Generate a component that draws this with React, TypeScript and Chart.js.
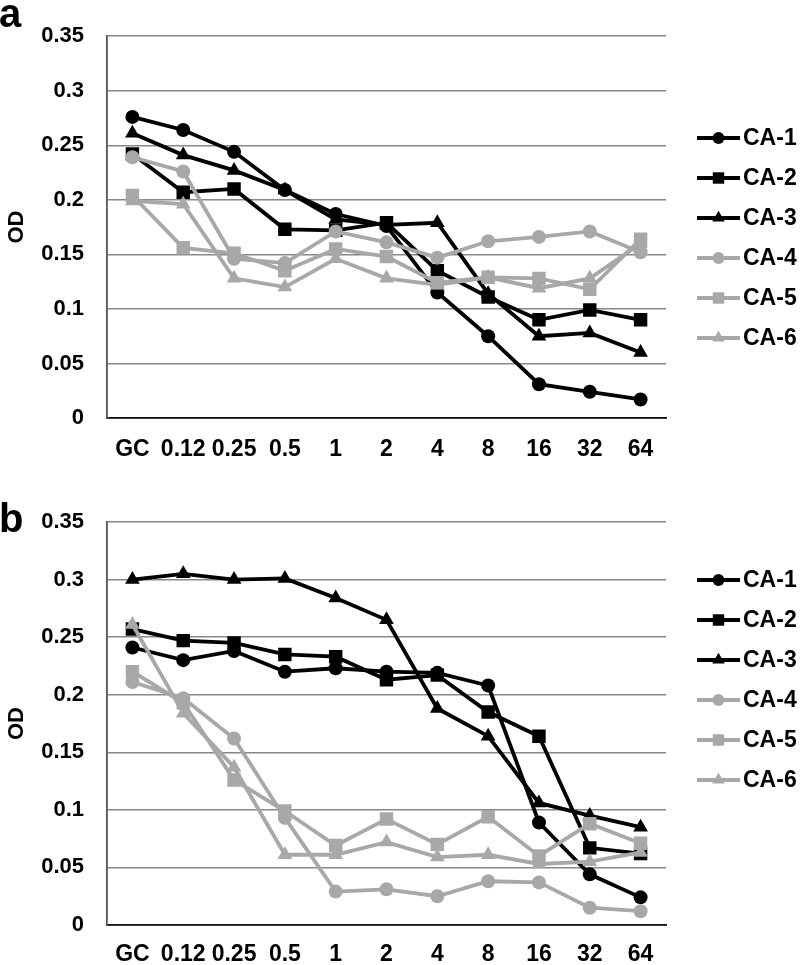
import React, { useEffect, useRef } from 'react';
import { Chart, registerables } from 'chart.js';

Chart.register(...registerables);

// ---------- DATA ----------
const categories = ['GC', '0.12', '0.25', '0.5', '1', '2', '4', '8', '16', '32', '64'];
const seriesNames = ['CA-1', 'CA-2', 'CA-3', 'CA-4', 'CA-5', 'CA-6'];
const yTicks = [0, 0.05, 0.1, 0.15, 0.2, 0.25, 0.3, 0.35];

// Panel a
const a_CA1 = [0.276, 0.264, 0.244, 0.209, 0.187, 0.176, 0.115, 0.075, 0.031, 0.024, 0.017];
const a_CA2 = [0.242, 0.207, 0.210, 0.173, 0.172, 0.179, 0.135, 0.111, 0.090, 0.099, 0.090];
const a_CA3 = [0.261, 0.241, 0.227, 0.209, 0.182, 0.177, 0.179, 0.114, 0.075, 0.078, 0.060];
const a_CA4 = [0.239, 0.226, 0.146, 0.142, 0.171, 0.161, 0.147, 0.162, 0.166, 0.171, 0.152];
const a_CA5 = [0.204, 0.156, 0.151, 0.135, 0.155, 0.148, 0.124, 0.129, 0.128, 0.118, 0.164];
const a_CA6 = [0.199, 0.196, 0.128, 0.120, 0.146, 0.128, 0.122, 0.129, 0.119, 0.128, 0.160];

// Panel b
const b_CA1 = [0.241, 0.230, 0.238, 0.220, 0.223, 0.220, 0.219, 0.208, 0.089, 0.044, 0.024];
const b_CA2 = [0.257, 0.247, 0.245, 0.235, 0.233, 0.213, 0.217, 0.185, 0.164, 0.067, 0.062];
const b_CA3 = [0.300, 0.305, 0.300, 0.301, 0.284, 0.265, 0.188, 0.164, 0.106, 0.095, 0.085];
const b_CA4 = [0.211, 0.197, 0.162, 0.093, 0.029, 0.031, 0.025, 0.038, 0.037, 0.015, 0.012];
const b_CA5 = [0.220, 0.193, 0.126, 0.099, 0.069, 0.092, 0.070, 0.094, 0.060, 0.088, 0.071];
const b_CA6 = [0.261, 0.184, 0.137, 0.061, 0.061, 0.072, 0.059, 0.061, 0.053, 0.055, 0.063];

const panelAValues = [a_CA1, a_CA2, a_CA3, a_CA4, a_CA5, a_CA6];
const panelBValues = [b_CA1, b_CA2, b_CA3, b_CA4, b_CA5, b_CA6];

// ---------- STYLE ----------
const FONT = '"Liberation Sans", Arial, Helvetica, sans-serif';
const BLACK = '#000000';
const GRAY = '#a8a8a8';
const seriesColors = [BLACK, BLACK, BLACK, GRAY, GRAY, GRAY];
const seriesPointStyles = ['circle', 'rect', 'triangle', 'circle', 'rect', 'triangle'];
const seriesPointRadius = [7, 9.5, 8.5, 7, 9.5, 8.5];

function drawMarker(ctx: CanvasRenderingContext2D, style: string, x: number, y: number, r: number) {
  ctx.beginPath();
  if (style === 'circle') {
    ctx.arc(x, y, r, 0, Math.PI * 2);
  } else if (style === 'rect') {
    const s = Math.SQRT1_2 * r;
    ctx.rect(x - s, y - s, 2 * s, 2 * s);
  } else {
    let rad = 0;
    ctx.moveTo(x + Math.sin(rad) * r, y - Math.cos(rad) * r);
    rad += (2 * Math.PI) / 3;
    ctx.lineTo(x + Math.sin(rad) * r, y - Math.cos(rad) * r);
    rad += (2 * Math.PI) / 3;
    ctx.lineTo(x + Math.sin(rad) * r, y - Math.cos(rad) * r);
    ctx.closePath();
  }
  ctx.fill();
}

const decorPlugin = {
  id: 'decor',
  afterDraw(chart: any, _args: any, opts: any) {
    const ctx: CanvasRenderingContext2D = chart.ctx;
    ctx.save();
    // panel letter
    ctx.fillStyle = '#000';
    ctx.font = `bold 40px ${FONT}`;
    ctx.textAlign = 'left';
    ctx.textBaseline = 'alphabetic';
    ctx.fillText(opts.letter, -1, opts.letterY);
    // legend
    const x0 = chart.chartArea.right + 31;
    chart.data.datasets.forEach((ds: any, i: number) => {
      const y = opts.legendTop + i * opts.legendGap;
      ctx.strokeStyle = ds.borderColor;
      ctx.fillStyle = ds.borderColor;
      ctx.lineWidth = 3.8;
      ctx.beginPath();
      ctx.moveTo(x0, y);
      ctx.lineTo(x0 + 43, y);
      ctx.stroke();
      drawMarker(ctx, ds.pointStyle, x0 + 21.5, y, ds.pointRadius * 0.85);
      ctx.fillStyle = '#000';
      ctx.font = `bold 23px ${FONT}`;
      ctx.textBaseline = 'middle';
      ctx.fillText(ds.label, x0 + 46, y + 1);
    });
    ctx.restore();
  },
};

function makeConfig(values: number[][], p: any) {
  const datasets = values.map((v, i) => ({
    label: seriesNames[i],
    data: v,
    borderColor: seriesColors[i],
    backgroundColor: seriesColors[i],
    pointBackgroundColor: seriesColors[i],
    pointBorderColor: seriesColors[i],
    pointBorderWidth: 0,
    pointStyle: seriesPointStyles[i],
    pointRadius: seriesPointRadius[i],
    borderWidth: 3.8,
    tension: 0,
    fill: false,
    order: values.length - i,
  }));
  return {
    type: 'line',
    data: { labels: categories, datasets },
    plugins: [decorPlugin],
    options: {
      responsive: false,
      animation: false,
      events: [],
      layout: { padding: { top: p.top, left: 0, right: 134, bottom: 0 } },
      plugins: {
        legend: { display: false },
        tooltip: { enabled: false },
        decor: { letter: p.letter, letterY: p.letterY, legendTop: p.legendTop, legendGap: 40 },
      },
      scales: {
        x: {
          type: 'category',
          offset: true,
          grid: { display: false, drawTicks: false },
          border: { display: true, color: '#111', width: 1.8 },
          ticks: {
            autoSkip: false,
            maxRotation: 0,
            minRotation: 0,
            padding: p.xPad,
            color: '#000',
            font: { family: FONT, size: 23, weight: 'bold' },
          },
          afterFit: (s: any) => { s.height = p.xHeight; },
        },
        y: {
          min: 0,
          max: 0.35,
          afterBuildTicks: (s: any) => { s.ticks = yTicks.map((v) => ({ value: v })); },
          grid: { color: '#888888', lineWidth: 1.5, drawTicks: false },
          border: { display: true, color: '#555', width: 1.8 },
          ticks: {
            padding: 23,
            color: '#000',
            font: { family: FONT, size: 22, weight: 'bold' },
            callback: (v: number) => String(Math.round(v * 100) / 100),
          },
          title: {
            display: true,
            text: 'OD',
            color: '#000',
            font: { family: FONT, size: 22, weight: 'bold' },
            padding: { top: 4, bottom: 0 },
          },
          afterFit: (s: any) => { s.width = 107; },
        },
      },
    },
  };
}

function Panel({ values, height, p }: { values: number[][]; height: number; p: any }) {
  const ref = useRef<HTMLCanvasElement | null>(null);
  useEffect(() => {
    if (!ref.current) return;
    const chart = new Chart(ref.current, makeConfig(values, p) as any);
    return () => chart.destroy();
  }, []);
  return <canvas ref={ref} width={800} height={height} style={{ display: 'block', width: 800, height }} />;
}

export default function App() {
  return (
    <div style={{ position: 'absolute', left: 0, top: 0, width: 800, height: 965, background: '#fff' }}>
      <Panel
        values={panelAValues}
        height={482}
        p={{ letter: 'a', letterY: 27, top: 22, xHeight: 64, xPad: 18, legendTop: 138 }}
      />
      <Panel
        values={panelBValues}
        height={483}
        p={{ letter: 'b', letterY: 50, top: 40, xHeight: 40, xPad: 16, legendTop: 98 }}
      />
    </div>
  );
}
